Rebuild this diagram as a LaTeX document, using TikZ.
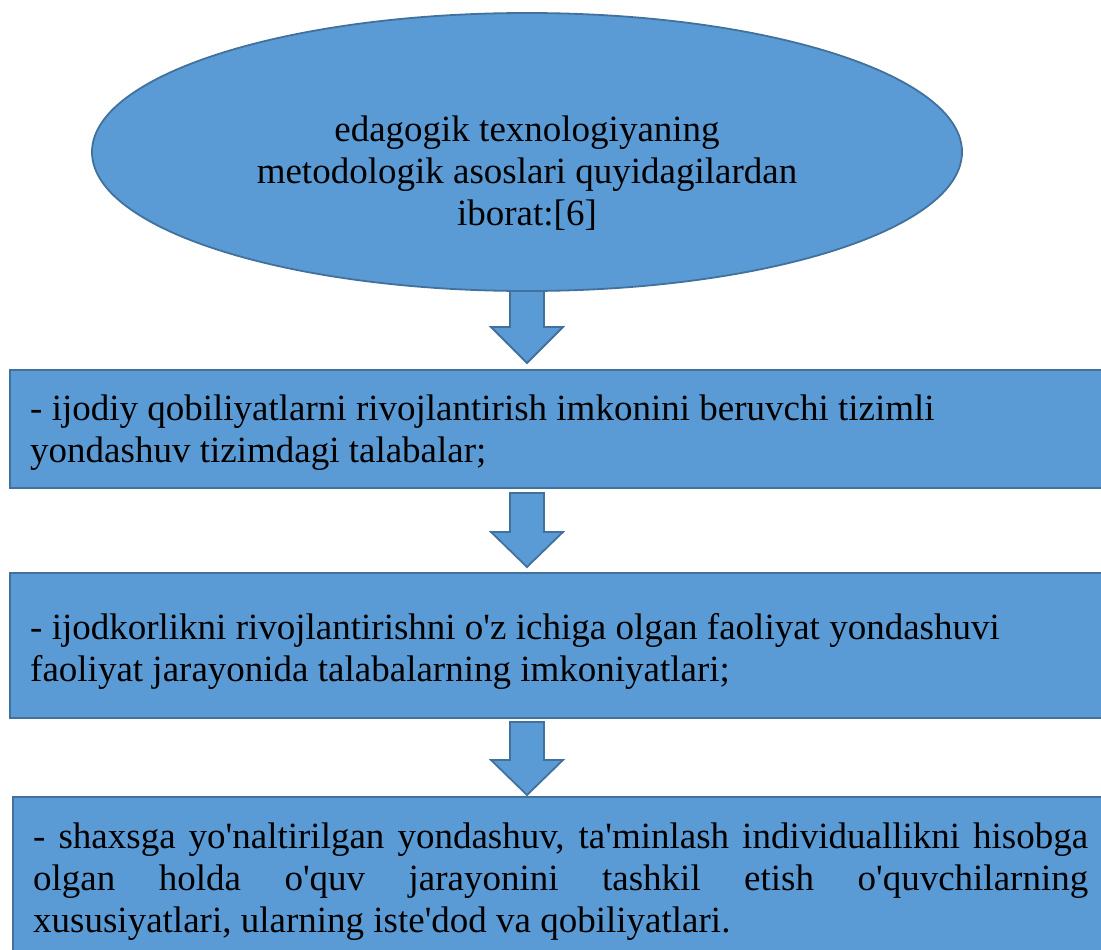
\documentclass[tikz,border=0pt]{standalone}
\usepackage{fontspec}
\setmainfont{Liberation Serif}
\usetikzlibrary{calc}
\definecolor{boxfill}{HTML}{5B9BD5}
\definecolor{boxline}{HTML}{41719C}
\newcommand{\ap}{\textquotesingle}
\tikzset{
  shapebox/.style={fill=boxfill, draw=boxline, line width=1.8pt},
  txt/.style={font=\fontsize{37}{42}\selectfont, inner sep=0pt},
}
\begin{document}
\begin{tikzpicture}[x=1pt,y=-1pt]
\useasboundingbox (0,0) rectangle (1101,950);
% ellipse
\draw[shapebox] (527,152) ellipse [x radius=435, y radius=139];
\node[txt, align=center, anchor=base] (top) at (527,225) {edagogik texnologiyaning\\metodologik asoslari quyidagilardan\\iborat:[6]};
% arrow 1
\draw[shapebox] (510,291) -- (544,291) -- (544,327) -- (563,327) -- (527,363) -- (491,327) -- (510,327) -- cycle;
% box 1
\draw[shapebox] (10,370) rectangle (1110,488);
\node[txt, align=left, anchor=base west] (b1) at (30,462) {- ijodiy qobiliyatlarni rivojlantirish imkonini beruvchi tizimli\\yondashuv tizimdagi talabalar;};
% arrow 2
\draw[shapebox] (510,493) -- (544,493) -- (544,532) -- (563,532) -- (527,567) -- (491,532) -- (510,532) -- cycle;
% box 2
\draw[shapebox] (10,573) rectangle (1110,718);
\node[txt, align=left, anchor=base west] (b2) at (30,681) {- ijodkorlikni rivojlantirishni o\ap z ichiga olgan faoliyat yondashuvi\\faoliyat jarayonida talabalarning imkoniyatlari;};
% arrow 3
\draw[shapebox] (510,722) -- (544,722) -- (544,760) -- (563,760) -- (527,795) -- (491,760) -- (510,760) -- cycle;
% box 3
\draw[shapebox] (13,797) rectangle (1110,960);
\node[txt, anchor=base west, text width=1055pt, align=justify] (b3) at (33,848) {- shaxsga yo\ap naltirilgan yondashuv, ta\ap minlash individuallikni hisobga\linebreak olgan holda o\ap quv jarayonini tashkil etish o\ap quvchilarning\linebreak xususiyatlari, ularning iste\ap dod va qobiliyatlari.};
\end{tikzpicture}
\end{document}
